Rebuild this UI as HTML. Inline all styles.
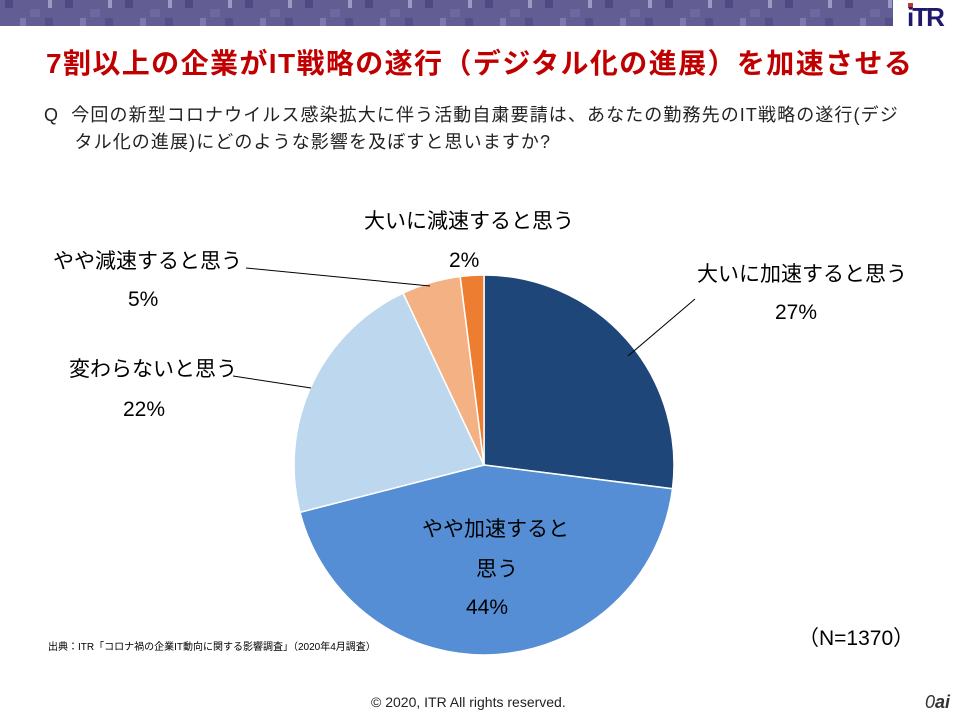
<!DOCTYPE html>
<html><head><meta charset="utf-8"><style>
body{margin:0;width:960px;height:720px;background:#fff;position:relative;overflow:hidden;font-family:"Liberation Sans","Noto Sans CJK JP",sans-serif;}
.t{position:absolute;white-space:nowrap;color:#000;}
</style></head><body>
<svg width="960" height="720" style="position:absolute;left:0;top:0">
<defs><pattern id="p" width="60" height="26" patternUnits="userSpaceOnUse">
<rect width="60" height="26" fill="#625d92"/>
<rect x="5" y="0" width="8" height="8" fill="#4f4a83"/><rect x="30" y="9" width="10" height="8" fill="#6d69a0"/>
<rect x="20" y="18" width="6" height="8" fill="#7c78ab"/><rect x="48" y="0" width="4" height="8" fill="#9b98c4"/>
<rect x="45" y="18" width="8" height="8" fill="#55508a"/></pattern></defs>
<rect x="0" y="0" width="893" height="26" fill="url(#p)"/>
<rect x="908" y="3" width="5" height="5" fill="#c0392b"/>
<g stroke="#fff" stroke-width="1.5">
<path d="M484,465 L484,275 A190,190 0 0 1 672.5,488.8 Z" fill="#1f4679"/>
<path d="M484,465 L672.5,488.8 A190,190 0 0 1 300,512.3 Z" fill="#558ed5"/>
<path d="M484,465 L300,512.3 A190,190 0 0 1 403.1,293.1 Z" fill="#bdd7ee"/>
<path d="M484,465 L403.1,293.1 A190,190 0 0 1 460.2,276.5 Z" fill="#f4b183"/>
<path d="M484,465 L460.2,276.5 A190,190 0 0 1 484,275 Z" fill="#ed7d31"/>
</g>
<g stroke="#000" stroke-width="1" fill="none">
<line x1="628" y1="356" x2="695" y2="299"/>
<line x1="246" y1="268" x2="430" y2="286"/>
<line x1="233" y1="376" x2="311" y2="388"/>
</g>
</svg>
<div class="t" style="left:907px;top:2px;font-size:26px;font-weight:bold;color:#1f1a6e;letter-spacing:-2px">iTR</div>
<div class="t" style="left:46px;top:42px;font-size:28px;font-weight:bold;color:#c00000;letter-spacing:1.4px">7割以上の企業がIT戦略の遂行（デジタル化の進展）を加速させる</div>
<div class="t" style="left:44px;top:102px;font-size:18px;line-height:27px;color:#222;letter-spacing:1.1px">Q&nbsp; 今回の新型コロナウイルス感染拡大に伴う活動自粛要請は、あなたの勤務先のIT戦略の遂行(デジ<br>&nbsp;&nbsp;&nbsp;&nbsp;&nbsp;タル化の進展)にどのような影響を及ぼすと思いますか?</div>
<div class="t" style="left:364px;top:205px;font-size:21px">大いに減速すると思う</div>
<div class="t" style="left:449px;top:249px;font-size:21px">2%</div>
<div class="t" style="left:697px;top:258px;font-size:21px">大いに加速すると思う</div>
<div class="t" style="left:775px;top:301px;font-size:21px">27%</div>
<div class="t" style="left:53px;top:245px;font-size:21px">やや減速すると思う</div>
<div class="t" style="left:128px;top:288px;font-size:21px">5%</div>
<div class="t" style="left:69px;top:353px;font-size:21px">変わらないと思う</div>
<div class="t" style="left:123px;top:398px;font-size:21px">22%</div>
<div class="t" style="left:422px;top:513px;font-size:21px">やや加速すると</div>
<div class="t" style="left:476px;top:553px;font-size:21px">思う</div>
<div class="t" style="left:466px;top:596px;font-size:21px">44%</div>
<div class="t" style="left:798px;top:622px;font-size:21px">（N=1370）</div>
<div class="t" style="left:48px;top:638px;font-size:10px">出典：ITR「コロナ禍の企業IT動向に関する影響調査」（2020年4月調査）</div>
<div class="t" style="left:371px;top:694px;font-size:14px;color:#222">© 2020, ITR All rights reserved.</div>
<div class="t" style="left:925px;top:692px;font-size:18px;font-style:italic;color:#333">0<span style="font-weight:bold">ai</span></div>
</body></html>
